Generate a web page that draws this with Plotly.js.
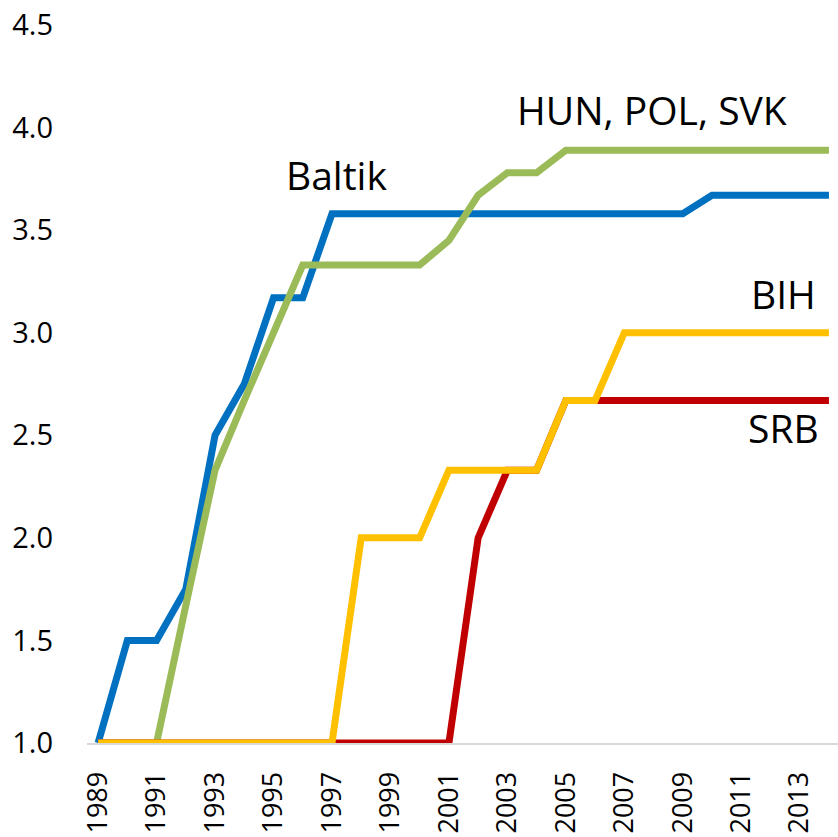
<!DOCTYPE html>
<html>
<head>
<meta charset="utf-8">
<script src="https://cdn.plot.ly/plotly-3.0.1.min.js"></script>
<style>html,body{margin:0;padding:0;background:#fff;}#chart{width:838px;height:837px;}</style>
</head>
<body>
<div id="chart"></div>
<script>
const years = [1989,1990,1991,1992,1993,1994,1995,1996,1997,1998,1999,2000,2001,2002,2003,2004,2005,2006,2007,2008,2009,2010,2011,2012,2013,2014];
const baltik = [1,1.5,1.5,1.75,2.5,2.75,3.17,3.17,3.58,3.58,3.58,3.58,3.58,3.58,3.58,3.58,3.58,3.58,3.58,3.58,3.58,3.67,3.67,3.67,3.67,3.67];
const hunPolSvk = [1,1,1,1.67,2.33,2.67,3.0,3.33,3.33,3.33,3.33,3.33,3.45,3.67,3.78,3.78,3.89,3.89,3.89,3.89,3.89,3.89,3.89,3.89,3.89,3.89];
const srb = [1,1,1,1,1,1,1,1,1,1,1,1,1,2,2.33,2.33,2.67,2.67,2.67,2.67,2.67,2.67,2.67,2.67,2.67,2.67];
const bih = [1,1,1,1,1,1,1,1,1,2,2,2,2.33,2.33,2.33,2.33,2.67,2.67,3,3,3,3,3,3,3,3];
const xTicks = [1989,1991,1993,1995,1997,1999,2001,2003,2005,2007,2009,2011,2013];
const yTicks = [1.0,1.5,2.0,2.5,3.0,3.5,4.0,4.5];
const labels = [
  {text:'Baltik', x:1997.14, y:3.77},
  {text:'HUN, POL, SVK', x:2007.95, y:4.09},
  {text:'BIH', x:2012.45, y:3.19},
  {text:'SRB', x:2012.45, y:2.54}
];

const font = '"Open Sans", "Noto Sans", sans-serif';
function tr(y, color){
  return {x: years, y: y, type:'scatter', mode:'lines', cliponaxis:false,
          line:{color:color, width:7}, hoverinfo:'skip'};
}
const data = [
  tr(baltik,'#0070C0'),
  tr(hunPolSvk,'#9BBB59'),
  tr(srb,'#C00000'),
  tr(bih,'#FFC000')
];
const layout = {
  width:838, height:837,
  margin:{l:87, r:0, t:25, b:94},
  paper_bgcolor:'#fff', plot_bgcolor:'#fff',
  showlegend:false,
  font:{family:font, color:'#000'},
  xaxis:{range:[1988.62,2014.31], tickvals:xTicks, ticktext:xTicks.map(String),
         tickangle:-90, tickfont:{size:27, family:font, color:'#000'},
         showgrid:false, zeroline:false, showline:true, linecolor:'#D9D9D9', linewidth:2,
         ticks:'', ticklabelstandoff:16},
  yaxis:{range:[1,4.5], tickvals:yTicks, ticktext:yTicks.map(v=>v.toFixed(1)),
         tickfont:{size:29, family:font, color:'#000'},
         showgrid:false, zeroline:false, showline:false, ticks:'', ticklabelstandoff:33},
  annotations: labels.map(l=>({x:l.x, y:l.y, xref:'x', yref:'y', text:l.text, showarrow:false,
     xanchor:'center', yanchor:'middle', font:{size:39, family:font, color:'#000'}}))
};
Plotly.newPlot('chart', data, layout, {staticPlot:true, displayModeBar:false});
</script>
</body>
</html>
